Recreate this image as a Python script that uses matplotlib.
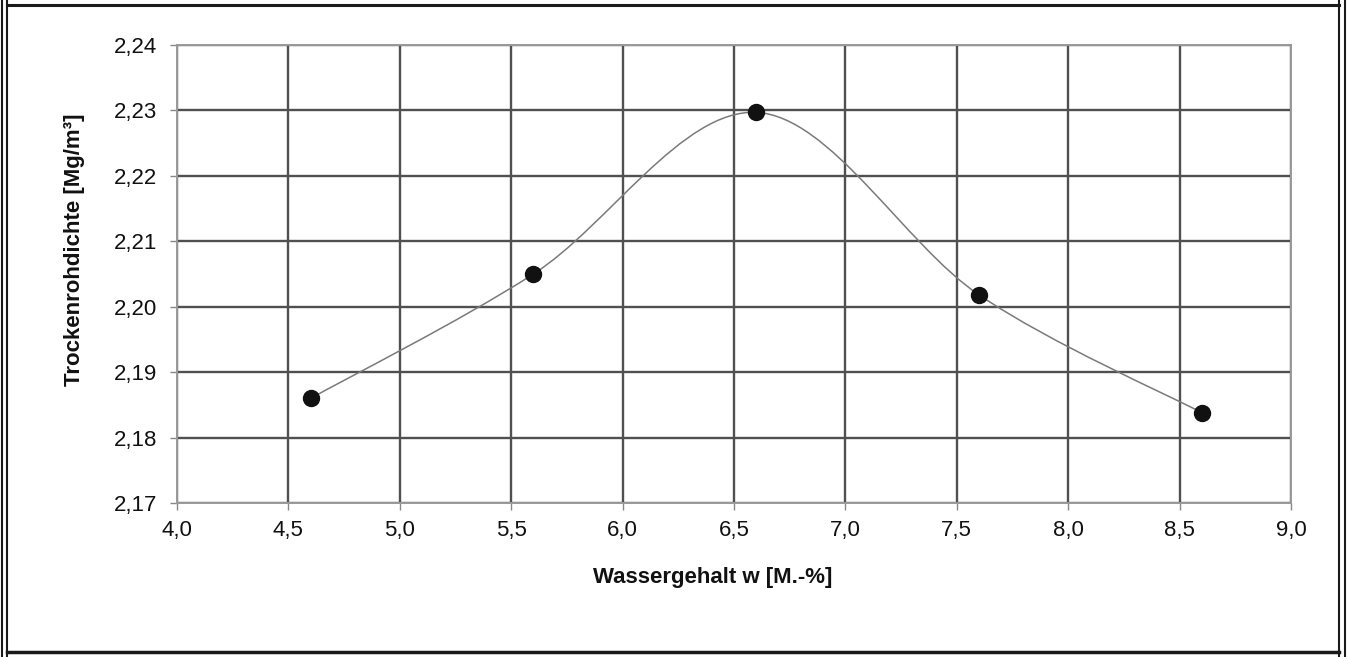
import matplotlib.pyplot as plt
from matplotlib.path import Path
from matplotlib.patches import PathPatch
from matplotlib.lines import Line2D
from matplotlib.ticker import FuncFormatter

plt.rcParams['font.family'] = ['Liberation Sans', 'DejaVu Sans']

# Proctor-Versuch: Wassergehalt vs. Trockenrohdichte
wassergehalt = [4.6, 5.6, 6.6, 7.6, 8.6]
trockendichte = [2.186, 2.205, 2.2297, 2.2018, 2.1838]

x_ticks = [4.0, 4.5, 5.0, 5.5, 6.0, 6.5, 7.0, 7.5, 8.0, 8.5, 9.0]
y_ticks = [2.17, 2.18, 2.19, 2.20, 2.21, 2.22, 2.23, 2.24]

W, H = 1348, 657
fig = plt.figure(figsize=(W / 100, H / 100), dpi=100)
ax = fig.add_axes([177 / W, 1 - 503 / H, (1291 - 177) / W, (503 - 45) / H])

# smoothed line like Excel (bezier segments through the points)
pts = list(zip(wassergehalt, trockendichte))
n = len(pts)
verts = [pts[0]]
codes = [Path.MOVETO]
for i in range(n - 1):
    p0 = pts[max(i - 1, 0)]
    p1 = pts[i]
    p2 = pts[i + 1]
    p3 = pts[min(i + 2, n - 1)]
    c1 = (p1[0] + (p2[0] - p0[0]) / 6, p1[1] + (p2[1] - p0[1]) / 6)
    c2 = (p2[0] - (p3[0] - p1[0]) / 6, p2[1] - (p3[1] - p1[1]) / 6)
    verts += [c1, c2, p2]
    codes += [Path.CURVE4] * 3
ax.add_patch(PathPatch(Path(verts, codes), facecolor='none', edgecolor='#7a7a7a',
                       lw=1.1, zorder=3))

ax.plot(wassergehalt, trockendichte, linestyle='none', marker='o', markersize=11.5,
        color='#111111', zorder=4)

ax.set_xlim(4.0, 9.0)
ax.set_ylim(2.17, 2.24)
ax.set_xticks(x_ticks)
ax.set_yticks(y_ticks)
ax.xaxis.set_major_formatter(FuncFormatter(lambda v, p: f'{v:.1f}'.replace('.', ',')))
ax.yaxis.set_major_formatter(FuncFormatter(lambda v, p: f'{v:.2f}'.replace('.', ',')))
ax.tick_params(axis='both', direction='out', length=5, width=1, color='#888888',
               labelsize=16, labelcolor='#111111')
ax.tick_params(axis='y', pad=9)
ax.tick_params(axis='x', pad=7)
ax.grid(True, color='#505050', lw=1.7)
ax.set_axisbelow(True)
for s in ax.spines.values():
    s.set_color('#999999')
    s.set_linewidth(1.4)

fig.text(75 / W, 1 - 250 / H, 'Trockenrohdichte [Mg/m³]', rotation=90, ha='center',
         va='center', fontsize=16, fontweight='bold', color='#111111')
fig.text(713 / W, 1 - 578 / H, 'Wassergehalt w [M.-%]', ha='center', va='center',
         fontsize=16, fontweight='bold', color='#111111')

# frame of the scanned sheet
def fline(x0, y0, x1, y1, lw):
    fig.add_artist(Line2D([x0 / W, x1 / W], [1 - y0 / H, 1 - y1 / H], color='#1a1a1a',
                          lw=lw, transform=fig.transFigure))

fline(2, 0, 2, H, 1.5)
fline(7, 0, 7, H, 1.5)
fline(1339, 0, 1339, H, 1.5)
fline(1345, 0, 1345, H, 1.5)
fline(7, 5, 1339, 5, 2.2)
fline(7, 652, 1339, 652, 2.5)

fig.savefig('out.png', dpi=100)
